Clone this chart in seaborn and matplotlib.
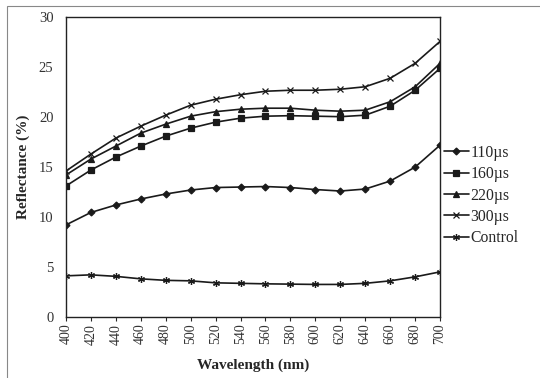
import numpy as np
import pandas as pd
import seaborn as sns
import matplotlib.pyplot as plt
from matplotlib.patches import Rectangle

# Dữ liệu
wavelength = [400, 420, 440, 460, 480, 500, 520, 540, 560, 580, 600, 620, 640, 660, 680, 700]
r_110 = [9.2, 10.45, 11.2, 11.8, 12.3, 12.7, 12.95, 13.0, 13.05, 12.95, 12.75, 12.6, 12.8, 13.6, 15.0, 17.2]
r_160 = [13.1, 14.7, 16.0, 17.1, 18.1, 18.9, 19.5, 19.9, 20.1, 20.15, 20.1, 20.05, 20.2, 21.1, 22.7, 24.9]
r_220 = [14.2, 15.8, 17.1, 18.4, 19.3, 20.1, 20.55, 20.8, 20.9, 20.9, 20.7, 20.6, 20.7, 21.55, 23.05, 25.4]
r_300 = [14.6, 16.3, 17.9, 19.1, 20.2, 21.2, 21.8, 22.25, 22.6, 22.7, 22.7, 22.8, 23.05, 23.9, 25.4, 27.6]
r_control = [4.1, 4.2, 4.05, 3.8, 3.65, 3.6, 3.4, 3.35, 3.3, 3.27, 3.24, 3.24, 3.35, 3.6, 4.0, 4.5]
series_names = ['110µs', '160µs', '220µs', '300µs', 'Control']

df = pd.concat([
    pd.DataFrame({'Wavelength': wavelength, 'Reflectance': vals, 'Series': name})
    for name, vals in zip(series_names, [r_110, r_160, r_220, r_300, r_control])
])

sns.set_style('white')
plt.rcParams['font.family'] = ['Liberation Serif', 'DejaVu Serif']

fig = plt.figure(figsize=(5.4, 3.78), dpi=100)
ax = fig.add_axes([0.122, 0.162, 0.693, 0.792])

markers = {'110µs': 'D', '160µs': 's', '220µs': '^', '300µs': 'x', 'Control': (6, 2, 0)}
sizes = {'110µs': 3.5, '160µs': 5, '220µs': 5, '300µs': 5, 'Control': 5}

for name in series_names:
    sub = df[df['Series'] == name]
    sns.lineplot(data=sub, x='Wavelength', y='Reflectance', ax=ax, color='#1a1a1a',
                 linewidth=1.2, marker=markers[name], markersize=sizes[name],
                 markeredgewidth=0.9, markeredgecolor='#1a1a1a', label=name)

ax.set_xlim(400, 700)
ax.set_ylim(0, 30)
ax.set_xticks(wavelength)
ax.set_xticklabels([str(w) for w in wavelength], rotation=90, fontsize=10, color='#333333')
ax.set_yticks(range(0, 31, 5))
ax.set_yticklabels([str(v) for v in range(0, 31, 5)], fontsize=10.5, color='#333333')
ax.tick_params(axis='x', direction='out', length=3, width=0.8, bottom=True, pad=2)
ax.tick_params(axis='y', length=0, pad=9)
for sp in ax.spines.values():
    sp.set_color('#222222')
    sp.set_linewidth(1.0)

ax.set_xlabel('Wavelength (nm)', fontsize=11, fontweight='bold', labelpad=10)
ax.set_ylabel('Reflectance (%)', fontsize=11, fontweight='bold', labelpad=6)

ax.legend(loc='center left', bbox_to_anchor=(1.011, 0.405), frameon=False, fontsize=11.3,
          handlelength=1.55, handletextpad=0.1, labelspacing=0.34, borderaxespad=0.0,
          borderpad=0.0)

# khung ngoài của biểu đồ
fig.add_artist(Rectangle((0.013, -0.05), 1.1, 1.034, transform=fig.transFigure,
                         fill=False, edgecolor='#888888', linewidth=0.8))

fig.savefig('out.png', dpi=100)
